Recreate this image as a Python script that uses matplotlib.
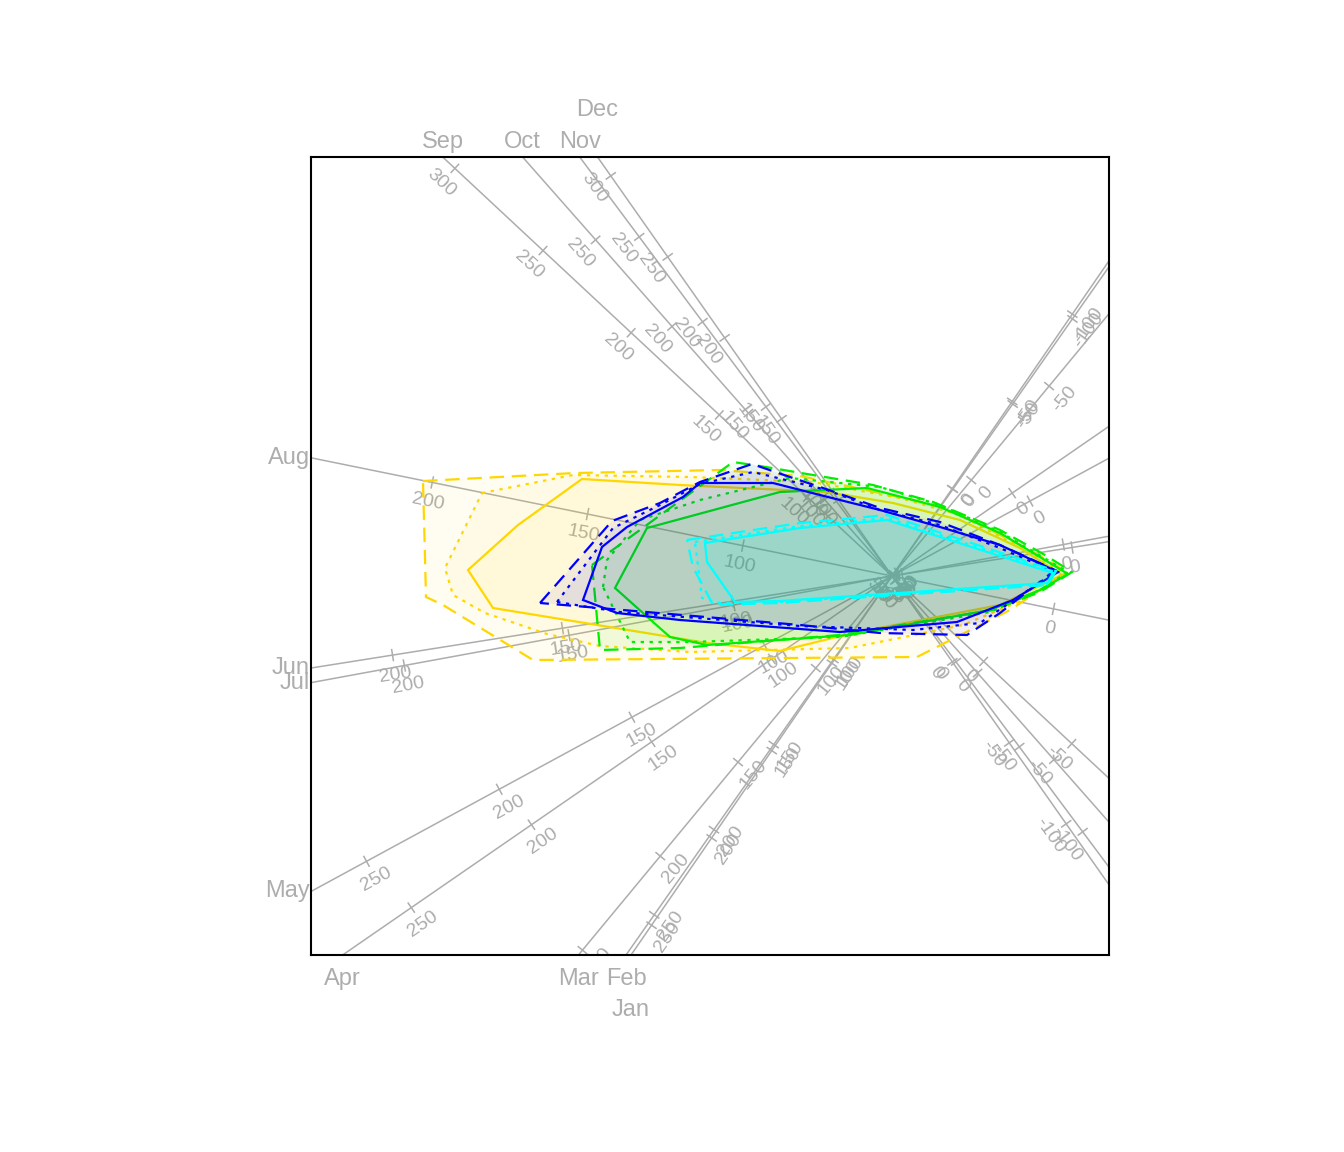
import numpy as np
import matplotlib
matplotlib.use('Agg')
import matplotlib.pyplot as plt
from matplotlib.colors import to_rgba
from matplotlib.patches import Polygon

plt.rcParams['font.family'] = ['Liberation Sans', 'DejaVu Sans']

# ---------------------------------------------------------------------------
# Biplot axes: one calibrated axis per month
# angle = direction of increasing values, scale = biplot units per mm,
# mean = value sitting at the biplot origin
# ---------------------------------------------------------------------------
MONTHS = ['Jan', 'Feb', 'Mar', 'Apr', 'May', 'Jun',
          'Jul', 'Aug', 'Sep', 'Oct', 'Nov', 'Dec']
AXIS_ANGLE = [-124.55, -125.06, -129.6, -145.4, -151.5, -171.0,
              -169.6, 168.5, 137.0, 131.4, 126.7, 125.1]
AXIS_MEAN = [50, 51, 51, 50, 52, 53, 52, 52, 52, 56, 50.5, 53]
AXIS_SCALE = [0.0212, 0.0208, 0.0244, 0.0292, 0.0302, 0.0344,
              0.0335, 0.0317, 0.0241, 0.0231, 0.0212, 0.0198]
TICK_STEP = 50

# ---------------------------------------------------------------------------
# Alpha bags per group: outer (dashed), middle (dotted), inner (solid)
# ---------------------------------------------------------------------------
GOLD_OUTER = [(-4.69, 0.95), (-3.17, 1.03), (-1.72, 1.06), (-0.92, 1.00),
              (-0.12, 0.83), (0.53, 0.69), (1.38, 0.26), (1.75, 0.04),
              (1.18, -0.34), (0.25, -0.81), (-3.59, -0.84), (-4.49, -0.29),
              (-4.66, -0.21)]
GOLD_MID = [(-4.10, 0.83), (-3.19, 1.01), (-2.02, 0.99), (-0.79, 0.94),
            (0.08, 0.78), (0.68, 0.61), (1.33, 0.26), (1.73, 0.02),
            (1.38, -0.21), (0.71, -0.49), (-0.42, -0.72), (-2.02, -0.76),
            (-2.92, -0.70), (-3.45, -0.58), (-4.07, -0.37), (-4.39, -0.19),
            (-4.47, 0.08)]
GOLD_INNER = [(-3.74, 0.51), (-3.10, 0.97), (-2.12, 0.91), (-0.65, 0.84),
              (0.01, 0.73), (0.68, 0.56), (1.28, 0.28), (1.70, 0.01),
              (1.08, -0.29), (-0.39, -0.57), (-1.12, -0.75), (-1.85, -0.67),
              (-2.52, -0.56), (-3.99, -0.32), (-4.24, 0.06)]

GREEN_OUTER = [(-3.00, 0.11), (-1.59, 1.14), (-1.32, 1.10), (-0.79, 1.01),
               (-0.19, 0.91), (0.41, 0.74), (1.08, 0.46), (1.53, 0.21),
               (1.80, 0.04), (1.48, -0.16), (1.01, -0.34), (-0.52, -0.59),
               (-2.12, -0.72), (-2.92, -0.74)]
GREEN_MID = [(-2.89, -0.11), (-2.85, 0.16), (-2.52, 0.56), (-1.92, 0.76),
             (-1.02, 0.98), (-0.12, 0.89), (0.48, 0.71), (1.08, 0.44),
             (1.76, 0.04), (1.48, -0.14), (0.98, -0.36), (-0.52, -0.61),
             (-2.02, -0.66), (-2.62, -0.66)]
GREEN_INNER = [(-2.77, -0.12), (-2.45, 0.48), (-1.12, 0.84), (-0.25, 0.88),
               (0.48, 0.69), (1.08, 0.43), (1.76, 0.02), (1.48, -0.14),
               (0.98, -0.34), (-0.42, -0.59), (-1.85, -0.69), (-2.22, -0.61),
               (-2.39, -0.46)]

BLUE_OUTER = [(-3.52, -0.27), (-2.80, 0.55), (-2.32, 0.73), (-1.92, 0.94),
              (-1.40, 1.12), (-1.02, 0.99), (-0.69, 0.88), (-0.12, 0.68),
              (0.48, 0.54), (1.08, 0.31), (1.63, 0.06), (1.08, -0.37),
              (0.75, -0.59), (-0.12, -0.57), (-0.92, -0.49)]
BLUE_MID = [(-3.35, -0.26), (-2.79, 0.48), (-2.32, 0.71), (-1.92, 0.92),
            (-1.39, 1.04), (-0.65, 0.86), (-0.12, 0.66), (0.48, 0.51),
            (1.08, 0.28), (1.63, 0.04), (0.88, -0.47), (0.21, -0.54),
            (-0.92, -0.50), (-2.72, -0.36)]
BLUE_INNER = [(-3.09, -0.24), (-2.90, 0.29), (-2.65, 0.49), (-2.09, 0.79),
              (-1.92, 0.93), (-1.19, 0.93), (-0.72, 0.81), (-0.12, 0.66),
              (0.48, 0.49), (1.08, 0.31), (1.66, 0.04), (1.21, -0.24),
              (0.65, -0.46), (-0.52, -0.56), (-2.12, -0.44), (-2.75, -0.37)]

CYAN_OUTER = [(-2.05, 0.36), (-0.92, 0.53), (-0.05, 0.61), (1.64, 0.05),
              (1.56, -0.09), (-1.12, -0.27), (-1.79, -0.29), (-1.99, 0.09)]
CYAN_MID = [(-1.97, 0.34), (-0.92, 0.50), (-0.05, 0.58), (1.63, 0.04),
            (1.55, -0.08), (-1.12, -0.26), (-1.72, -0.27), (-1.90, -0.22)]
CYAN_INNER = [(-1.87, 0.33), (-0.92, 0.48), (-0.05, 0.56), (1.61, 0.03),
              (1.55, -0.07), (-1.12, -0.25), (-1.57, -0.26), (-1.85, 0.14)]

GROUP_COLORS = ['#FFD700', '#00EE00', '#0000FF', '#00FFFF']
GROUP_BAGS = [
    [GOLD_OUTER, GOLD_MID, GOLD_INNER],
    [GREEN_OUTER, GREEN_MID, GREEN_INNER],
    [BLUE_OUTER, BLUE_MID, BLUE_INNER],
    [CYAN_OUTER, CYAN_MID, CYAN_INNER],
]
BAG_STYLES = [(0, (6.5, 3.5)), (0, (1.5, 2.5)), '-']

GREY = '#ADADAD'
XLIM = (-5.81, 2.17)
YLIM = (-3.79, 4.19)
PX = 0.72  # points per pixel at dpi 100

# labels bumped outward one line to avoid overlap with a neighbour
LABEL_LINE = {'Dec': 1, 'Jan': 1}

fig = plt.figure(figsize=(13.44, 11.52), dpi=100)
ax = fig.add_axes([311 / 1344, 197 / 1152, 798 / 1344, 798 / 1152])
ax.set_xlim(*XLIM)
ax.set_ylim(*YLIM)
ax.set_xticks([])
ax.set_yticks([])
for sp in ax.spines.values():
    sp.set_linewidth(1.5)
    sp.set_color('black')


def inside(pt, pad=0.0):
    return (XLIM[0] + pad <= pt[0] <= XLIM[1] - pad and
            YLIM[0] + pad <= pt[1] <= YLIM[1] - pad)


def t_range(u):
    """Range of distance t along direction u for which t*u stays in the box."""
    lo, hi = -np.inf, np.inf
    for k, lim in ((0, XLIM), (1, YLIM)):
        if abs(u[k]) < 1e-12:
            continue
        a, b = lim[0] / u[k], lim[1] / u[k]
        lo, hi = max(lo, min(a, b)), min(hi, max(a, b))
    return lo, hi


# ---------------------------------------------------------------------------
# Axes with calibration ticks
# ---------------------------------------------------------------------------
for name, ang, mu, sc in zip(MONTHS, AXIS_ANGLE, AXIS_MEAN, AXIS_SCALE):
    u = np.array([np.cos(np.radians(ang)), np.sin(np.radians(ang))])
    perp = np.array([-u[1], u[0]])
    tlo, thi = t_range(u)
    ax.plot([tlo * u[0], thi * u[0]], [tlo * u[1], thi * u[1]],
            color=GREY, lw=1.1, zorder=1, solid_capstyle='butt')

    rot = ang
    while rot > 90:
        rot -= 180
    while rot <= -90:
        rot += 180

    vlo, vhi = mu + tlo / sc, mu + thi / sc
    v0 = np.ceil(min(vlo, vhi) / TICK_STEP) * TICK_STEP
    for v in np.arange(v0, max(vlo, vhi) + 1e-9, TICK_STEP):
        pt = (v - mu) * sc * u
        if not inside(pt, 0.02):
            continue
        a, b = pt - 0.055 * perp, pt + 0.055 * perp
        ax.plot([a[0], b[0]], [a[1], b[1]], color=GREY, lw=1.1, zorder=1)
        lp = pt + 0.20 * perp
        ax.text(lp[0], lp[1], str(int(round(v))), color=GREY, fontsize=14,
                rotation=rot, rotation_mode='anchor', ha='center',
                va='center', clip_on=True, zorder=1)

    # month label at the high end of the axis, outside the box
    end = thi * u
    shift = LABEL_LINE.get(name, 0)
    if abs(end[1] - YLIM[1]) < 1e-6:
        off, ha, va = (0, (15 + 32 * shift) * PX), 'center', 'center'
    elif abs(end[1] - YLIM[0]) < 1e-6:
        off, ha, va = (0, -(24 + 31 * shift) * PX), 'center', 'center'
    elif abs(end[0] - XLIM[0]) < 1e-6:
        off, ha, va = (-1 * PX, 0), 'right', 'center'
    else:
        off, ha, va = (3 * PX, 0), 'left', 'center'
    ax.annotate(name, xy=(end[0], end[1]), xytext=off,
                textcoords='offset points', ha=ha, va=va,
                color=GREY, fontsize=17, annotation_clip=False)

# ---------------------------------------------------------------------------
# Alpha bags
# ---------------------------------------------------------------------------
z = 3
for col, bags in zip(GROUP_COLORS, GROUP_BAGS):
    for verts, ls in zip(bags, BAG_STYLES):
        ax.add_patch(Polygon(verts, closed=True,
                             facecolor=to_rgba(col, 0.05),
                             edgecolor=col, linestyle=ls, lw=1.6,
                             joinstyle='miter', zorder=z))
        z += 0.01

fig.savefig('out.png', dpi=100)
